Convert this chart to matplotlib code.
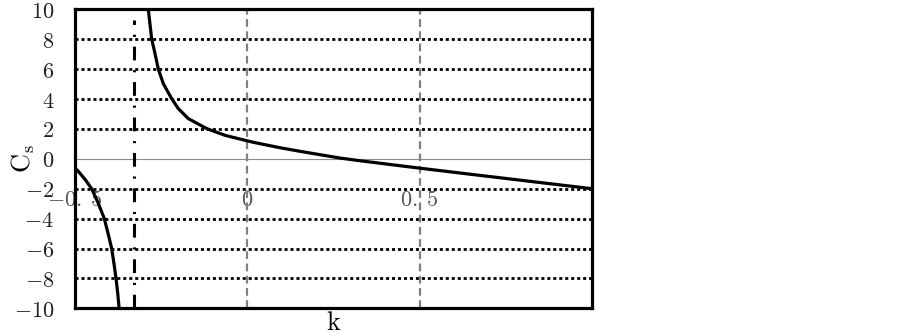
import matplotlib
matplotlib.use("Agg")
import matplotlib.pyplot as plt
import numpy as np

plt.rcParams['mathtext.fontset'] = 'cm'
plt.rcParams['font.family'] = 'serif'

# values
k_upper = [-0.2900, -0.2873, -0.2824, -0.2775, -0.2699, -0.2583, -0.2438, -0.2195,
           -0.2003, -0.1713, -0.1179, -0.0648, 0.0, 0.0222, 0.0950, 0.1530,
           0.2690, 0.3270, 0.4980, 0.6460, 1.0]
cs_upper = [10.6, 10.0, 9.0, 8.0, 7.25, 6.0, 5.03, 4.02,
            3.36, 2.69, 2.02, 1.57, 1.2, 1.08, 0.74, 0.50,
            0.05, -0.13, -0.62, -1.03, -2.0]
k_lower = [-0.4930, -0.4700, -0.4516, -0.4320, -0.4150, -0.4040, -0.3936, -0.3870,
           -0.3810, -0.3760, -0.3720, -0.3710]
cs_lower = [-0.77, -1.40, -2.0, -3.0, -4.0, -5.0, -6.0, -7.0,
            -8.0, -9.0, -10.0, -10.3]
k_asym = -0.329
k_ref = [0.0, 0.5]
grid_levels = [-8, -6, -4, -2, 2, 4, 6, 8]
y_ticks = [-10, -8, -6, -4, -2, 0, 2, 4, 6, 8, 10]
x_ticks = [-0.5, 0.0, 0.5]
x_tick_labels = [r'$-0.\;5$', r'$0$', r'$0.\;5$']

fig = plt.figure(figsize=(9.03, 3.33), dpi=100)
ax = fig.add_axes([75/903, 24.7/333, 517/903, 299/333])

ax.set_xlim(-0.5, 1.0)
ax.set_ylim(-10, 10)

# zero line and grid
ax.axhline(0, color='#8c8c8c', lw=0.8, zorder=1)
for g in grid_levels:
    ax.axhline(g, color='black', lw=2.0, linestyle=(0, (1.1, 1.05)), zorder=2)
for kr in k_ref:
    ax.axvline(kr, color='#808080', lw=1.6, linestyle=(0, (3.5, 2.0)), zorder=2)
ax.axvline(k_asym, ymax=0.965, color='black', lw=2.2,
           linestyle=(0, (4.5, 3.2, 0.7, 3.2)), zorder=3)

# x tick labels sit inside the plot, below the zero line
for xt, lab in zip(x_ticks, x_tick_labels):
    ax.text(xt, -2.75, lab, ha='center', va='center', fontsize=16,
            color='#555555', zorder=1)

ax.plot(k_upper, cs_upper, color='black', lw=2.3, zorder=4,
        solid_joinstyle='round')
ax.plot(k_lower, cs_lower, color='black', lw=2.3, zorder=4,
        solid_joinstyle='round')

ax.set_xticks([])
ax.set_yticks(y_ticks)
ax.set_yticklabels([r'$%d$' % v for v in y_ticks], fontsize=16, color='#222222')
ax.tick_params(axis='y', length=0, pad=15)

for s in ax.spines.values():
    s.set_linewidth(2.3)
    s.set_zorder(5)

ax.set_ylabel(r'$\mathrm{C_s}$', fontsize=19, rotation=90)
ax.yaxis.set_label_coords(-0.074, 0.5)
ax.set_xlabel(r'$\mathrm{k}$', fontsize=19)
ax.xaxis.set_label_coords(0.5, -0.005)

fig.savefig('out.png', dpi=100)
